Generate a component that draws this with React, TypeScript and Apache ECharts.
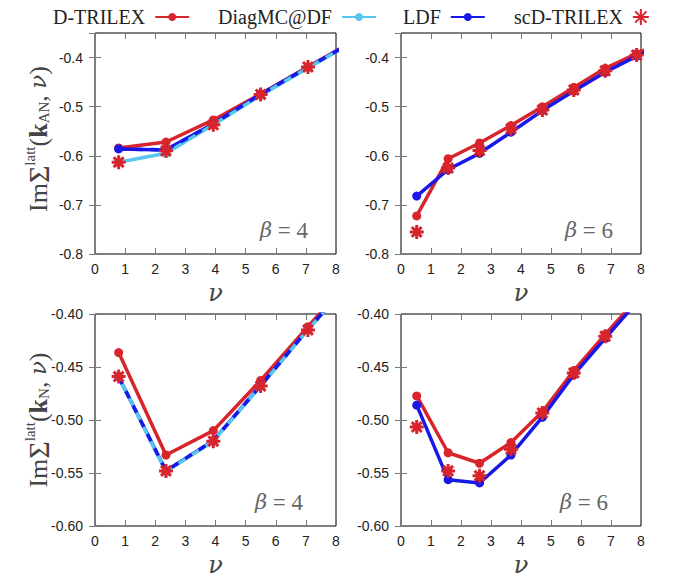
import React, { useEffect, useRef } from 'react';
import * as echarts from 'echarts';

// Matsubara frequencies
const nu4 = [0.785, 2.356, 3.927, 5.498, 7.069, 8.639];
const nu6 = [0.524, 1.571, 2.618, 3.665, 4.712, 5.76, 6.807, 7.854, 8.901];

// k_AN, beta = 4
const dtrilexAN4 = [-0.584, -0.572, -0.527, -0.474, -0.419, -0.364];
const diagmcAN4 = [-0.613, -0.595, -0.537, -0.477, -0.421, -0.366];
const ldfAN4 = [-0.586, -0.588, -0.535, -0.475, -0.42, -0.365];
const scAN4 = [-0.613, -0.59, -0.537, -0.475, -0.419];

// k_AN, beta = 6
const dtrilexAN6 = [-0.7225, -0.606, -0.574, -0.5385, -0.5, -0.461, -0.422, -0.392, -0.362];
const ldfAN6 = [-0.682, -0.628, -0.595, -0.552, -0.508, -0.468, -0.43, -0.397, -0.367];
const scAN6 = [-0.755, -0.625, -0.589, -0.545, -0.507, -0.466, -0.427, -0.395];

// k_N, beta = 4
const dtrilexN4 = [-0.4364, -0.533, -0.51, -0.4627, -0.412, -0.362];
const diagmcN4 = [-0.4593, -0.5485, -0.52, -0.468, -0.4147, -0.365];
const ldfN4 = [-0.4593, -0.548, -0.5195, -0.4675, -0.4145, -0.364];
const scN4 = [-0.459, -0.548, -0.52, -0.468, -0.415];

// k_N, beta = 6
const dtrilexN6 = [-0.4773, -0.5309, -0.5408, -0.5213, -0.4922, -0.4534, -0.4193, -0.386];
const ldfN6 = [-0.486, -0.5563, -0.5594, -0.533, -0.4974, -0.4572, -0.423, -0.389];
const scN6 = [-0.5067, -0.548, -0.5526, -0.5275, -0.4934, -0.4556, -0.421];

const xTicks = [0, 8, 1];
const yTopTicks = [-0.8, -0.35, 0.1];
const yBotTicks = [-0.6, -0.4, 0.05];

const RED = '#d8242b';
const CYAN = '#58c6ee';
const BLUE = '#1818e8';
const STAR = 'path://M0,-10L0,10M-10,0L10,0M-7.07,-7.07L7.07,7.07M-7.07,7.07L7.07,-7.07';
const SERIF = 'Liberation Serif';
const GREEK = 'DejaVu Serif';
const SANS = 'Liberation Sans';

export default function App() {
  const ref = useRef<HTMLDivElement>(null);
  useEffect(() => {
    document.body.style.margin = '0';
    const chart = echarts.init(ref.current!, null, { renderer: 'svg' });

    const grids = [
      { left: 95, top: 33, width: 241, height: 221 },
      { left: 401, top: 33, width: 240, height: 221 },
      { left: 95, top: 314, width: 241, height: 215 },
      { left: 401, top: 314, width: 240, height: 215 },
    ];

    const tick = { show: true, inside: true, length: 6, lineStyle: { color: '#777', width: 1 } };
    const xAxis: any[] = [];
    const yAxis: any[] = [];
    grids.forEach((_, gi) => {
      const yt = gi < 2 ? yTopTicks : yBotTicks;
      const dec = gi < 2 ? 1 : 2;
      const fmt = (v: number) => {
        const k = (v - yt[0]) / yt[2];
        return Math.abs(k - Math.round(k)) < 1e-6 ? v.toFixed(dec) : '';
      };
      xAxis.push({
        type: 'value', gridIndex: gi, position: 'bottom', min: xTicks[0], max: xTicks[1], interval: xTicks[2],
        axisLine: { show: false }, axisTick: tick, splitLine: { show: false },
        axisLabel: { fontFamily: SANS, fontSize: 14, color: '#222', margin: 8 },
        name: 'ν', nameLocation: 'middle', nameGap: 27,
        nameTextStyle: { fontFamily: GREEK, fontStyle: 'italic', fontSize: 24, color: '#444' },
      });
      xAxis.push({
        type: 'value', gridIndex: gi, position: 'top', min: xTicks[0], max: xTicks[1], interval: xTicks[2],
        axisLine: { show: false }, axisTick: tick, splitLine: { show: false }, axisLabel: { show: false },
      });
      yAxis.push({
        type: 'value', gridIndex: gi, position: 'left', min: yt[0], max: yt[1], interval: yt[2],
        axisLine: { show: false }, axisTick: tick, splitLine: { show: false },
        axisLabel: { fontFamily: SANS, fontSize: 14, color: '#222', margin: 12, formatter: fmt },
      });
      yAxis.push({
        type: 'value', gridIndex: gi, position: 'right', min: yt[0], max: yt[1], interval: yt[2],
        axisLine: { show: false }, axisTick: tick, splitLine: { show: false }, axisLabel: { show: false },
      });
    });

    const pts = (xs: number[], ys: number[]) => ys.map((y, i) => [xs[i], y]);
    const line = (name: string, xs: number[], ys: number[], color: string, gi: number) => ({
      type: 'line', name, xAxisIndex: 2 * gi, yAxisIndex: 2 * gi, data: pts(xs, ys),
      symbol: 'circle', symbolSize: 9, showSymbol: true, clip: true,
      lineStyle: { color, width: 3.5 }, itemStyle: { color },
    });
    const dashed = (xs: number[], ys: number[], gi: number) => ({
      type: 'line', name: 'LDF-overlay', xAxisIndex: 2 * gi, yAxisIndex: 2 * gi, data: pts(xs, ys),
      symbol: 'none', clip: true, lineStyle: { color: BLUE, width: 3.5, type: [8, 8] }, itemStyle: { color: BLUE },
    });
    const stars = (xs: number[], ys: number[], gi: number) => ({
      type: 'scatter', name: 'scD-TRILEX', xAxisIndex: 2 * gi, yAxisIndex: 2 * gi, data: pts(xs, ys),
      symbol: STAR, symbolSize: 14, symbolKeepAspect: true, clip: true, z: 5,
      itemStyle: { color: RED, borderColor: RED, borderWidth: 3, opacity: 1 },
    });

    const series: any[] = [
      line('D-TRILEX', nu4, dtrilexAN4, RED, 0),
      line('LDF', nu4, ldfAN4, BLUE, 0),
      line('DiagMC@DF', nu4, diagmcAN4, CYAN, 0),
      dashed(nu4, ldfAN4, 0),
      stars(nu4, scAN4, 0),

      line('D-TRILEX', nu6, dtrilexAN6, RED, 1),
      line('LDF', nu6, ldfAN6, BLUE, 1),
      stars(nu6, scAN6, 1),

      line('D-TRILEX', nu4, dtrilexN4, RED, 2),
      line('LDF', nu4, ldfN4, BLUE, 2),
      line('DiagMC@DF', nu4, diagmcN4, CYAN, 2),
      dashed(nu4, ldfN4, 2),
      stars(nu4, scN4, 2),

      line('D-TRILEX', nu6, dtrilexN6, RED, 3),
      line('LDF', nu6, ldfN6, BLUE, 3),
      stars(nu6, scN6, 3),
    ];

    const legendNames = ['D-TRILEX', 'DiagMC@DF', 'LDF', 'scD-TRILEX'];
    const legendLeft = [48, 213, 398, 509];
    const legend = legendNames.map((n, i) => ({
      data: [n], left: legendLeft[i], top: 2, align: 'right', selectedMode: false,
      itemWidth: i === 3 ? 16 : 34, itemHeight: i === 3 ? 16 : 10,
      formatter: (s: string) => s + ' ',
      textStyle: { fontFamily: SERIF, fontSize: 20, color: '#222' },
    }));

    const titleRich = {
      a: { fontFamily: SERIF, fontSize: 26, color: '#444' },
      s: { fontFamily: SERIF, fontSize: 30, color: '#444' },
      p: { fontFamily: SERIF, fontSize: 15, color: '#444', padding: [0, 0, 16, 0] },
      b: { fontFamily: SERIF, fontSize: 26, fontWeight: 'bold', color: '#444' },
      d: { fontFamily: SERIF, fontSize: 15, color: '#444', padding: [12, 0, 0, 0] },
      i: { fontFamily: GREEK, fontSize: 23, fontStyle: 'italic', color: '#444' },
    };
    const betaRich = {
      i: { fontFamily: GREEK, fontSize: 21, fontStyle: 'italic', fill: '#666', color: '#666' },
      a: { fontFamily: SERIF, fontSize: 23, fill: '#666', color: '#666' },
    };
    const beta = (x: number, y: number, b: string) => ({
      type: 'text', x, y,
      style: {
        text: `{i|β}{a| = ${b}}`, rich: betaRich, align: 'right', verticalAlign: 'middle',
        fontFamily: SERIF, fontSize: 23, fill: '#666',
      },
    });

    chart.setOption({
      animation: false,
      grid: grids.map((g) => ({ ...g, show: true, borderColor: '#000', borderWidth: 1, backgroundColor: 'transparent' })),
      xAxis, yAxis, series, legend,
      graphic: [
        {
          type: 'text', x: 38, y: 139, rotation: Math.PI / 2,
          style: { text: '{a|Im}{s|Σ}{p|latt}{a|(}{b|k}{d|AN}{a|, }{i|ν}{a|)}', rich: titleRich, align: 'center', verticalAlign: 'middle', fontFamily: SERIF, fill: '#444' },
        },
        {
          type: 'text', x: 38, y: 420, rotation: Math.PI / 2,
          style: { text: '{a|Im}{s|Σ}{p|latt}{a|(}{b|k}{d|N}{a|, }{i|ν}{a|)}', rich: titleRich, align: 'center', verticalAlign: 'middle', fontFamily: SERIF, fill: '#444' },
        },
        beta(308, 230, '4'),
        beta(613, 230, '6'),
        beta(303, 502, '4'),
        beta(608, 502, '6'),
      ],
    });
    return () => chart.dispose();
  }, []);
  return <div ref={ref} style={{ width: 673, height: 578 }} />;
}
